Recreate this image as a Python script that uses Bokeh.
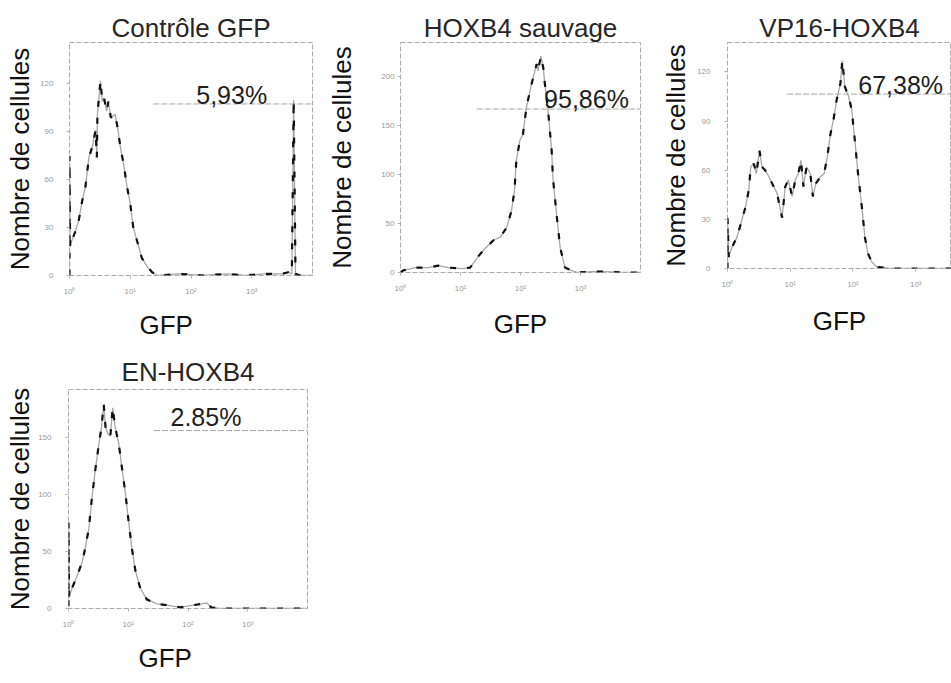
from bokeh.plotting import figure
from bokeh.layouts import column, row
from bokeh.models import Range1d, FixedTicker, CustomJSTickFormatter, Title
from bokeh.core.properties import value
from bokeh.embed import file_html
from bokeh.resources import INLINE

FONT = "Liberation Sans"

titles = ["Contrôle GFP", "HOXB4 sauvage", "VP16-HOXB4", "EN-HOXB4"]
percent_labels = ["5,93%", "95,86%", "67,38%", "2.85%"]

# histogram traces: log10(GFP) and number of cells
ctrl_log = [0.0, 0.0, 0.01, 0.04, 0.10, 0.15, 0.21, 0.26, 0.32, 0.37, 0.43, 0.45, 0.46, 0.51, 0.54,
            0.57, 0.61, 0.64, 0.68, 0.75, 0.79, 0.84, 0.89, 0.95, 1.00, 1.05, 1.11, 1.19, 1.27,
            1.36, 1.45, 1.8, 2.2, 2.6, 2.9, 3.2, 3.5, 3.6, 3.66, 3.69, 3.72, 3.8, 4.0]
ctrl_cnt = [0, 75, 18, 22, 28, 34, 47, 55, 74, 80, 91, 74, 101, 122, 109,
            111, 103, 109, 99, 101, 93, 80, 70, 55, 45, 30, 22, 11, 6,
            2, 0, 1, 0, 1, 0, 1, 1, 2, 1, 110, 1, 0, 0]

wt_log = [0.0, 0.04, 0.24, 0.46, 0.63, 0.80, 1.02, 1.16, 1.29, 1.40, 1.55, 1.66, 1.77, 1.85, 1.90,
          1.93, 1.99, 2.04, 2.10, 2.16, 2.21, 2.27, 2.29, 2.34, 2.38, 2.40, 2.46, 2.52, 2.54,
          2.60, 2.66, 2.74, 2.85, 2.96, 3.3, 3.7, 4.0]
wt_cnt = [0, 2, 5, 5, 7, 5, 4, 5, 16, 24, 33, 36, 46, 63, 84,
          114, 135, 141, 169, 186, 199, 213, 206, 221, 209, 196, 165, 124, 97,
          60, 26, 5, 2, 0, 1, 0, 0]

vp16_log = [0.0, 0.0, 0.02, 0.07, 0.15, 0.21, 0.29, 0.34, 0.37, 0.42, 0.46, 0.51, 0.55, 0.60, 0.66,
            0.71, 0.79, 0.87, 0.92, 0.97, 1.03, 1.08, 1.13, 1.17, 1.21, 1.26, 1.32, 1.36, 1.41,
            1.48, 1.54, 1.59, 1.64, 1.69, 1.74, 1.80, 1.83, 1.87, 1.93, 1.98, 2.03, 2.08, 2.14,
            2.19, 2.24, 2.30, 2.38, 2.59, 3.0, 3.57]
vp16_cnt = [0, 31, 7, 13, 19, 27, 38, 48, 62, 64, 58, 72, 62, 60, 56,
            52, 46, 31, 50, 54, 44, 54, 58, 66, 50, 62, 58, 44, 52,
            56, 58, 68, 82, 91, 103, 113, 127, 111, 105, 97, 78, 58, 38,
            19, 9, 4, 1, 0, 0, 0]

en_log = [0.0, 0.0, 0.01, 0.06, 0.14, 0.23, 0.28, 0.34, 0.39, 0.45, 0.51, 0.55, 0.59, 0.62, 0.66,
          0.70, 0.74, 0.78, 0.84, 0.89, 0.95, 1.00, 1.06, 1.12, 1.20, 1.31, 1.48, 1.64, 1.87,
          2.09, 2.23, 2.31, 2.39, 2.53, 3.0, 4.0]
en_cnt = [2, 76, 10, 18, 28, 41, 53, 70, 96, 122, 145, 158, 179, 159, 153,
          151, 176, 159, 145, 125, 102, 79, 53, 33, 18, 8, 4, 3, 1,
          3, 4, 5, 1, 0, 0, 0]

# marker gates (log10 start, log10 end, level) and label anchors (log10, count)
gate_start = [1.38, 1.27, 0.95, 1.43]
gate_end = [4.0, 4.0, 3.57, 4.0]
gate_level = [107.5, 167, 106.5, 156]
label_log = [2.67, 3.10, 2.76, 2.30]
label_cnt = [113, 177.5, 112, 168]

x_max_log = [4.0, 4.0, 3.57, 4.0]
y_max = [146, 235, 138, 192]
y_ticks = [[0, 30, 60, 90, 120], [0, 50, 100, 150, 200], [0, 30, 60, 90, 120], [0, 50, 100, 150]]

traces = [(ctrl_log, ctrl_cnt), (wt_log, wt_cnt), (vp16_log, vp16_cnt), (en_log, en_cnt)]

# layout: width, height, borders (l, r, t, b), y tick standoff, ylabel standoff,
# x caption standoff, title standoff, x caption left offset (None = centred axis label)
geom = [
    (324, 352, 69, 12, 42, 77, 13, 2, 19, 0, 70),
    (333, 349, 75, 17, 42, 77, 3, 21, 13, 0, None),
    (294, 345, 70, 0, 42, 77, 14, 3, 14, 0, None),
    (324, 331, 68, 17, 33, 75, 14, 0, 19, 5, 70),
]

sup_fmt = CustomJSTickFormatter(code="""
const s = {'0':'\u2070','1':'\u00b9','2':'\u00b2','3':'\u00b3','4':'\u2074'};
return '10' + s[String(Math.round(Math.log10(tick)))];
""")

figs = []
for i in range(4):
    w, h, bl, br, bt, bb, ytsd, ylsd, xlsd, tsd, xoff = geom[i]
    p = figure(width=w, height=h, x_axis_type="log",
               x_range=Range1d(1, 10 ** x_max_log[i]), y_range=Range1d(0, y_max[i]),
               output_backend="svg", toolbar_location=None,
               min_border_left=bl, min_border_right=br, min_border_top=bt, min_border_bottom=bb,
               y_axis_label="Nombre de cellules", title=titles[i])
    p.background_fill_color = "white"
    p.border_fill_color = "white"
    p.grid.visible = False
    p.outline_line_color = "#ababab"
    p.outline_line_dash = "5 2"
    p.outline_line_width = 1

    p.title.text_font = FONT
    p.title.text_font_size = "26px"
    p.title.text_font_style = "normal"
    p.title.text_color = "#262626"
    p.title.align = "center"
    p.title.standoff = tsd

    p.xaxis.ticker = FixedTicker(ticks=[1, 10, 100, 1000])
    p.xaxis.formatter = sup_fmt
    p.yaxis.ticker = FixedTicker(ticks=y_ticks[i])
    for ax in (p.xaxis, p.yaxis):
        ax.axis_line_color = None
        ax.major_tick_line_color = "#b4b4b4"
        ax.major_tick_out = 3
        ax.major_tick_in = 0
        ax.minor_tick_line_color = None
        ax.major_label_text_font = FONT
        ax.major_label_text_font_size = "8px"
        ax.major_label_text_color = "#9a9a9a"
        ax.axis_label_text_font = FONT
        ax.axis_label_text_font_size = "26px"
        ax.axis_label_text_font_style = "normal"
        ax.axis_label_text_color = "#111111"
    p.yaxis.major_label_standoff = ytsd
    p.yaxis.axis_label_standoff = ylsd
    p.xaxis.major_label_standoff = 8

    if xoff is None:
        p.xaxis.axis_label = "GFP"
        p.xaxis.axis_label_standoff = xlsd
    else:
        p.add_layout(Title(text="GFP", align="left", offset=xoff, standoff=xlsd,
                           text_font=FONT, text_font_size="26px", text_font_style="normal",
                           text_color="#111111"), "below")

    lx, cnt = traces[i]
    xs = [10 ** v for v in lx]
    p.line(xs, cnt, line_color="#a6a6a6", line_width=1.3)
    p.line(xs, cnt, line_color="#111111", line_width=2.2, line_dash="6 11")

    # marker gate
    p.line([10 ** gate_start[i], 10 ** gate_end[i]], [gate_level[i], gate_level[i]],
           line_color="#a8a8a8", line_width=1, line_dash="6 2")
    p.text(x=[10 ** label_log[i]], y=[label_cnt[i]], text=[percent_labels[i]],
           text_align="center", text_baseline="middle",
           text_font=value(FONT), text_font_size="25px", text_color="#1e1e1e")
    figs.append(p)

layout = column(row(figs[0], figs[1], figs[2]), row(figs[3]))
open("out.html", "w").write(file_html(layout, INLINE))
